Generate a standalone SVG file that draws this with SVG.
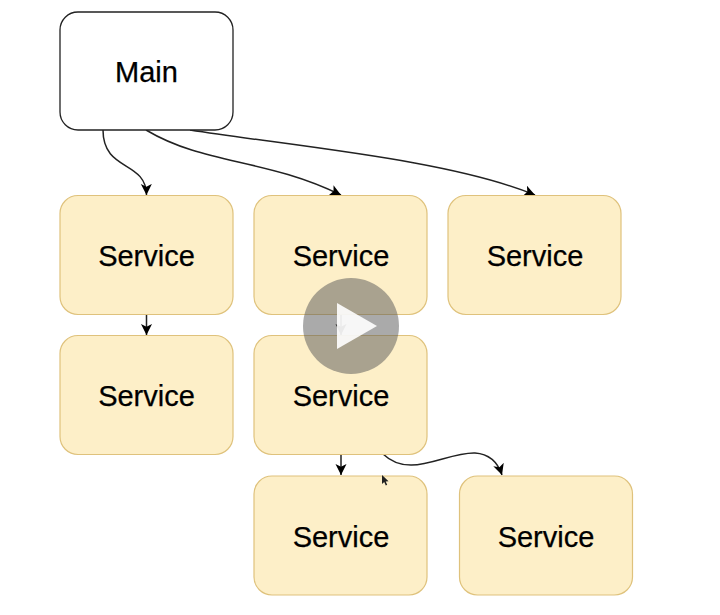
<svg xmlns="http://www.w3.org/2000/svg" width="720" height="615" viewBox="0 0 720 615">
<style>
.main{fill:#fff;stroke:#222;stroke-width:1.3}
.svc{fill:#fdefc8;stroke:#dfc27c;stroke-width:1.2}
text{font-family:"Liberation Sans",Arial,sans-serif;font-size:29px;fill:#000;stroke:#000;stroke-width:.25;text-anchor:middle}
.c{fill:none;stroke:#222;stroke-width:1.5}
</style>
<defs>
<marker id="a" markerUnits="userSpaceOnUse" markerWidth="13" markerHeight="13" refX="11" refY="5.500" orient="auto">
<path d="M0 0L11 5.500L0 11L2.700 5.500Z" fill="#000"/>
</marker>
</defs>
<rect width="720" height="615" fill="#fff"/>
<g id="connectors">
<path class="c" marker-end="url(#a)" d="M103 130C103 172 146 160 146.500 195"/>
<path class="c" marker-end="url(#a)" d="M146 130C205 165 265 158 341 195"/>
<path class="c" marker-end="url(#a)" d="M190 130C300 147 450 160 535 195"/>
<path class="c" marker-end="url(#a)" d="M146.500 314V335"/>
<path class="c" marker-end="url(#a)" d="M341 314V335"/>
<path class="c" marker-end="url(#a)" d="M341 454V475"/>
<path class="c" marker-end="url(#a)" d="M383 454C410 480 445 452 475 453C490 454 498 463 502 475"/>
</g>
<g id="main"><rect class="main" x="60" y="12" width="173" height="118" rx="18"/><text x="146.500" y="82">Main</text></g>
<g id="service1"><rect class="svc" x="60" y="195.500" width="173" height="119" rx="18"/><text x="146.500" y="266">Service</text></g>
<g id="service2"><rect class="svc" x="254" y="195.500" width="173" height="119" rx="18"/><text x="341" y="266">Service</text></g>
<g id="service3"><rect class="svc" x="448" y="195.500" width="173" height="119" rx="18"/><text x="535" y="266">Service</text></g>
<g id="service4"><rect class="svc" x="60" y="335.500" width="173" height="119" rx="18"/><text x="146.500" y="406">Service</text></g>
<g id="service5"><rect class="svc" x="254" y="335.500" width="173" height="119" rx="18"/><text x="341" y="406">Service</text></g>
<g id="service6"><rect class="svc" x="254" y="476" width="173" height="119" rx="18"/><text x="341" y="547">Service</text></g>
<g id="service7"><rect class="svc" x="459.500" y="476" width="173" height="119" rx="18"/><text x="546" y="547">Service</text></g>
<path d="M382 475V484L384.200 482L385.800 485.500L387.200 484.800L385.700 481.500L388.500 481.300Z" fill="#222"/>
<circle cx="351" cy="326" r="48" fill="#555" fill-opacity=".5"/>
<path d="M337 303L377 326L337 349Z" fill="#fff" fill-opacity=".9"/>
</svg>
